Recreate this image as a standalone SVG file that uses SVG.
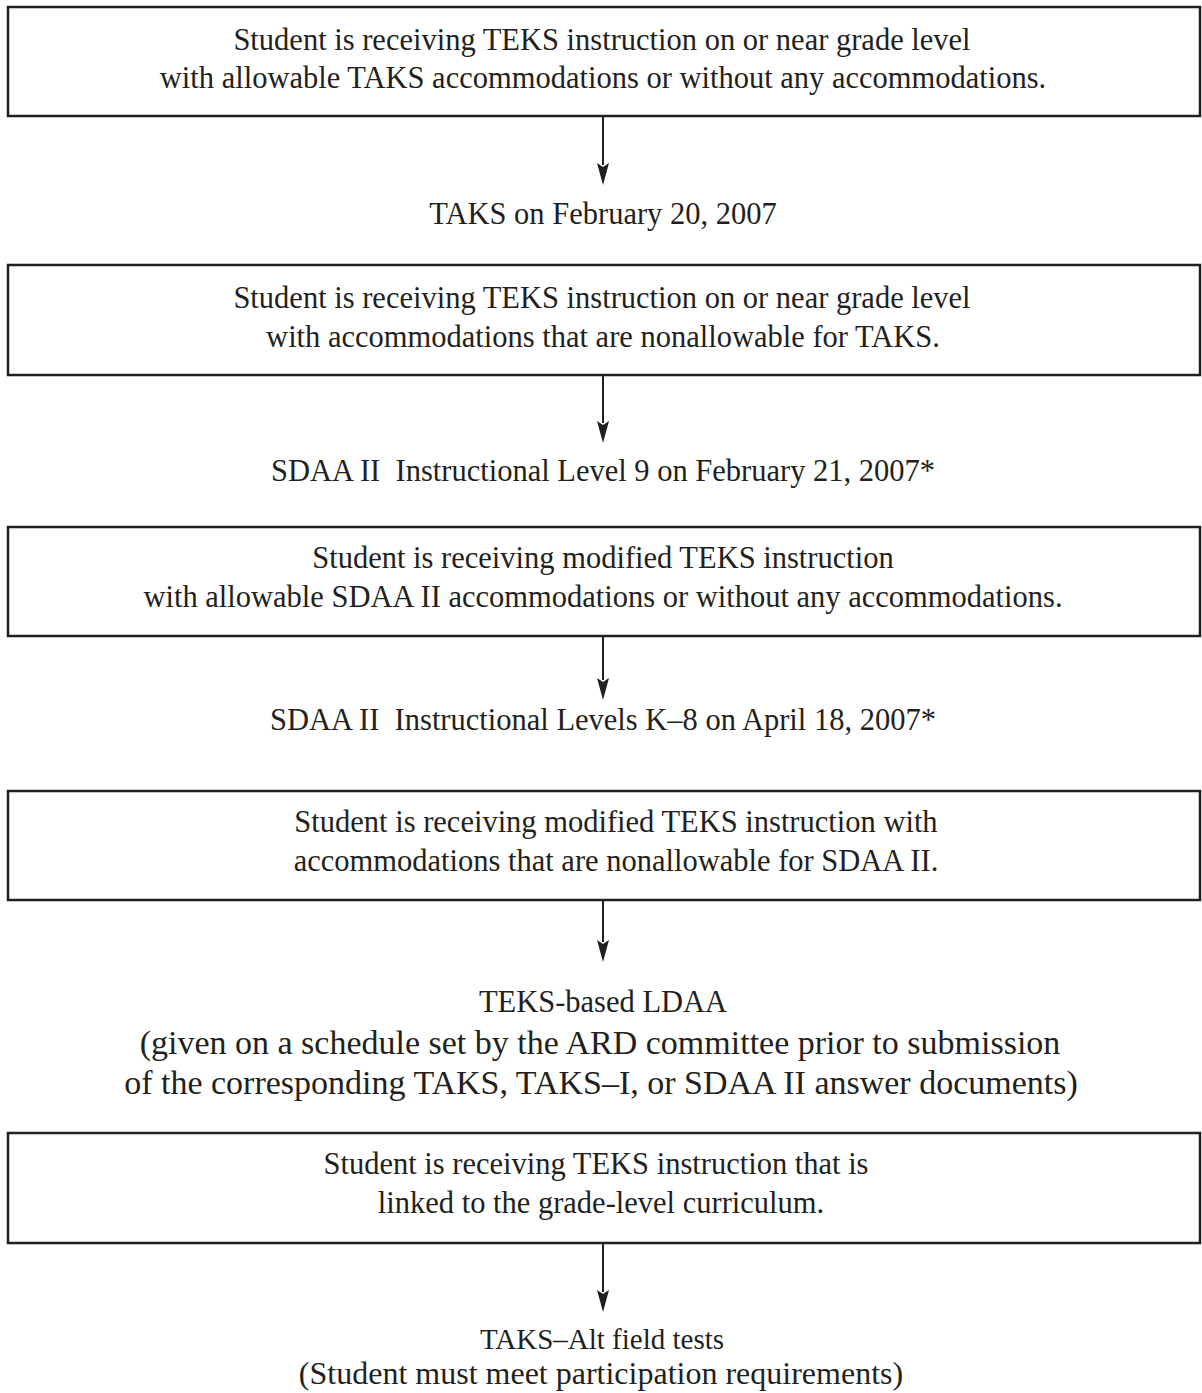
<svg xmlns="http://www.w3.org/2000/svg" width="1202" height="1393" viewBox="0 0 1202 1393">
<defs>
<style>
.box{fill:#fff;stroke:#231f20;stroke-width:2.5}
.t{font-family:"Liberation Serif","Times New Roman",serif;font-size:30.5px;fill:#231f20;text-anchor:middle}
.tl{font-family:"Liberation Serif","Times New Roman",serif;font-size:34px;fill:#231f20;text-anchor:middle}
.c{stroke:#231f20;stroke-width:2;fill:none}
.ah{fill:#231f20}
</style>
</defs>
<rect width="1202" height="1393" fill="#fff"/>
<g id="connectors">
<line class="c" x1="603" y1="116" x2="603" y2="165"/>
<path class="ah" d="M597,163 L603,167 L609,163 L603,185 Z"/>
<line class="c" x1="603" y1="375" x2="603" y2="423"/>
<path class="ah" d="M597,421 L603,425 L609,421 L603,443 Z"/>
<line class="c" x1="603" y1="636" x2="603" y2="680"/>
<path class="ah" d="M597,678 L603,682 L609,678 L603,700 Z"/>
<line class="c" x1="603" y1="900" x2="603" y2="942"/>
<path class="ah" d="M597,940 L603,944 L609,940 L603,962 Z"/>
<line class="c" x1="603" y1="1243" x2="603" y2="1292"/>
<path class="ah" d="M597,1290 L603,1294 L609,1290 L603,1312 Z"/>
</g>
<g id="box1">
<rect class="box" x="8" y="7" width="1192" height="109"/>
<text class="t" x="602" y="50">Student is receiving TEKS instruction on or near grade level</text>
<text class="t" x="603" y="88">with allowable TAKS accommodations or without any accommodations.</text>
</g>
<g id="out1"><text class="t" x="603" y="224">TAKS on February 20, 2007</text></g>
<g id="box2">
<rect class="box" x="8" y="265" width="1192" height="110"/>
<text class="t" x="602" y="308">Student is receiving TEKS instruction on or near grade level</text>
<text class="t" x="603" y="347">with accommodations that are nonallowable for TAKS.</text>
</g>
<g id="out2"><text class="t" x="603" y="481" xml:space="preserve">SDAA II  Instructional Level 9 on February 21, 2007*</text></g>
<g id="box3">
<rect class="box" x="8" y="527" width="1192" height="109"/>
<text class="t" x="603" y="568">Student is receiving modified TEKS instruction</text>
<text class="t" x="603" y="607">with allowable SDAA II accommodations or without any accommodations.</text>
</g>
<g id="out3"><text class="t" x="603" y="730" xml:space="preserve">SDAA II  Instructional Levels K–8 on April 18, 2007*</text></g>
<g id="box4">
<rect class="box" x="8" y="791" width="1192" height="109"/>
<text class="t" x="616" y="832">Student is receiving modified TEKS instruction with</text>
<text class="t" x="616" y="871">accommodations that are nonallowable for SDAA II.</text>
</g>
<g id="out4">
<text class="t" x="603" y="1012">TEKS-based LDAA</text>
<text class="tl" x="600" y="1054">(given on a schedule set by the ARD committee prior to submission</text>
<text class="tl" x="601" y="1094">of the corresponding TAKS, TAKS–I, or SDAA II answer documents)</text>
</g>
<g id="box5">
<rect class="box" x="8" y="1133" width="1192" height="110"/>
<text class="t" x="596" y="1174">Student is receiving TEKS instruction that is</text>
<text class="t" x="601" y="1213">linked to the grade-level curriculum.</text>
</g>
<g id="out5">
<text class="t" x="602" y="1349" style="font-size:29px">TAKS–Alt field tests</text>
<text class="tl" x="601" y="1384" style="font-size:32px">(Student must meet participation requirements)</text>
</g>
</svg>
